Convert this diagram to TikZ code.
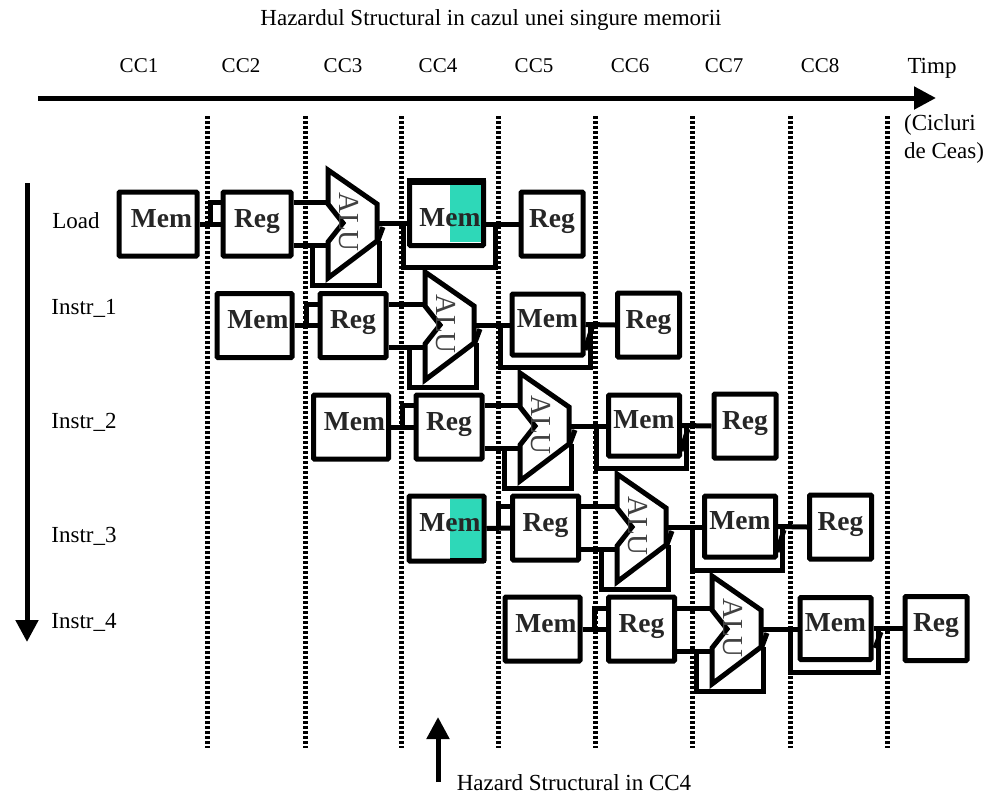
\documentclass[tikz,border=0pt]{standalone}
\usepackage{fontspec}
\setmainfont{Liberation Serif}
\usetikzlibrary{calc}
\usetikzlibrary{arrows.meta}
\definecolor{hazardteal}{RGB}{46, 216, 184}
\tikzset{
    wire/.style={line width=5pt, line join=miter},
    cyclesep/.style={line width=5pt, dash pattern=on 3.4pt off 1.6pt},
    bigarrow/.style={line width=5pt, -{Triangle[length=22pt, width=22pt]}},
    stagebox/.style={draw, line width=5pt, rounded corners=1pt, minimum height=64pt, inner sep=0pt,
                     text height=18pt, text depth=12pt, font=\fontsize{27.5}{30}\bfseries\selectfont, text=black!85},
    membox/.style={stagebox, minimum width=75pt, text width=68pt, align=right},
    datamem/.style={stagebox, minimum width=71pt, minimum height=61pt},
    regbox/.style={stagebox, minimum width=66pt},
    lastreg/.style={stagebox, minimum width=62pt},
    plainlabel/.style={inner sep=0pt, font=\fontsize{23}{28}\selectfont},
    cclabel/.style={inner sep=0pt, font=\fontsize{21}{25}\selectfont},
    alutext/.style={inner sep=0pt, rotate=-90, text=black!75, font=\fontsize{29}{30}\selectfont},
    alublock/.pic={
        \draw[wire] (0,0) -- (49,34) -- (49,71) -- (0,108) -- (0,72) -- (15,53) -- (0,34) -- cycle;
        \node[alutext] (-txt) at (21,52) {ALU};
        \coordinate (-in1) at (0,32);
        \coordinate (-in2) at (0,75);
        \coordinate (-out) at (49,53);
        \draw[wire] (-16,75) -- (-16,115) -- (51,115) -- (51,71);
        \draw[wire] (55,57) -- (49,73);
    }
}

\begin{document}
\begin{tikzpicture}[x=1pt, y=-1pt]
    \useasboundingbox (0,0) rectangle (988,796);
    % Clock cycle separators
    \draw[cyclesep] (207,116) -- (207,748);
    \draw[cyclesep] (305,116) -- (305,748);
    \draw[cyclesep] (401,116) -- (401,748);
    \draw[cyclesep] (498,116) -- (498,748);
    \draw[cyclesep] (595,116) -- (595,748);
    \draw[cyclesep] (692,116) -- (692,748);
    \draw[cyclesep] (790,116) -- (790,748);
    \draw[cyclesep] (887,116) -- (887,748);
    % Title and cycle names
    \node[plainlabel] (title) at (491,20) {Hazardul Structural in cazul unei singure memorii};
    \node[cclabel] (cc1) at (139,66) {CC1};
    \node[cclabel] (cc2) at (241,66) {CC2};
    \node[cclabel] (cc3) at (343,66) {CC3};
    \node[cclabel] (cc4) at (438,66) {CC4};
    \node[cclabel] (cc5) at (534,66) {CC5};
    \node[cclabel] (cc6) at (630,66) {CC6};
    \node[cclabel] (cc7) at (724,66) {CC7};
    \node[cclabel] (cc8) at (820,66) {CC8};
    \node[plainlabel] (timp) at (932,68) {Timp};
    \node[plainlabel, align=left] (cicluri) at (944,139) {(Cicluri\\de Ceas)};
    % Time and instruction axes
    \coordinate (timestart) at (38,98);
    \coordinate (timeend) at (936,98);
    \draw[bigarrow] (timestart) -- (timeend);
    \coordinate (instrstart) at (27,183);
    \coordinate (instrend) at (27,642);
    \draw[bigarrow] (instrstart) -- (instrend);
    % Instruction names
    \node[plainlabel] (load) at (76,221) {Load};
    \node[plainlabel] (instr1) at (84,308) {Instr\_1};
    \node[plainlabel] (instr2) at (84,422) {Instr\_2};
    \node[plainlabel] (instr3) at (84,536) {Instr\_3};
    \node[plainlabel] (instr4) at (84,622) {Instr\_4};
    % Shared memory highlight
    \fill[hazardteal] (450,185) rectangle (482,242);
    \fill (407,178) rectangle (486,185);
    \fill[hazardteal] (450,499) rectangle (482,558);
    \fill (450,558) rectangle (486,563);
    % Load
    \node[membox, minimum width=78pt] (mem0) at (158,224) {Mem};
    \node[regbox, minimum width=68pt] (reg0) at (257,224) {Reg};
    \pic (alu0) at (328,170) {alublock};
    \node[membox, minimum width=74pt, minimum height=65pt, text height=30pt, text depth=3pt] (dmem0) at (446.5,213) {Mem};
    \node[lastreg] (wreg0) at (552,224) {Reg};
    \draw[wire] (mem0.east) -- (reg0.west);
    \coordinate (tap0) at ($(mem0.east)!.5!(reg0.west)$);
    \draw[wire] (tap0) |- (reg0.west |- alu0-in1);
    \draw[wire] (reg0.east |- alu0-in1) -- (alu0-in1);
    \draw[wire] (reg0.east |- alu0-in2) -- (alu0-in2);
    \draw[wire] (alu0-out) -- (alu0-out -| dmem0.west);
    \draw[wire] (dmem0.east |- wreg0.west) -- (wreg0.west);
    \coordinate (fbl0) at (403,224);
    \coordinate (fbr0) at (495,267);
    \draw[wire] (fbl0) |- (fbr0) -- (fbr0 |- wreg0.west);
    % Instr_1
    \node[membox] (mem1) at (254.5,325.5) {Mem};
    \node[regbox] (reg1) at (353,325.5) {Reg};
    \pic (alu1) at (425,272) {alublock};
    \node[datamem] (dmem1) at (547.5,324.5) {Mem};
    \node[lastreg] (wreg1) at (648.5,325) {Reg};
    \draw[wire] (mem1.east) -- (reg1.west);
    \coordinate (tap1) at ($(mem1.east)!.5!(reg1.west)$);
    \draw[wire] (tap1) |- (reg1.west |- alu1-in1);
    \draw[wire] (reg1.east |- alu1-in1) -- (alu1-in1);
    \draw[wire] (reg1.east |- alu1-in2) -- (alu1-in2);
    \draw[wire] (alu1-out) -- (alu1-out -| dmem1.west);
    \draw[wire] (dmem1.east) -- (wreg1.west);
    \coordinate (fbl1) at (500,325);
    \coordinate (fbr1) at (590,367);
    \draw[wire] (fbl1) |- (fbr1) -- (fbr1 |- wreg1.west);
    \draw[wire] (592,328) -- (585,350);
    % Instr_2
    \node[membox] (mem2) at (351,427) {Mem};
    \node[regbox] (reg2) at (449,427) {Reg};
    \pic (alu2) at (520,373) {alublock};
    \node[datamem] (dmem2) at (644,425.5) {Mem};
    \node[lastreg] (wreg2) at (745,426) {Reg};
    \draw[wire] (mem2.east) -- (reg2.west);
    \coordinate (tap2) at ($(mem2.east)!.5!(reg2.west)$);
    \draw[wire] (tap2) |- (reg2.west |- alu2-in1);
    \draw[wire] (reg2.east |- alu2-in1) -- (alu2-in1);
    \draw[wire] (reg2.east |- alu2-in2) -- (alu2-in2);
    \draw[wire] (alu2-out) -- (alu2-out -| dmem2.west);
    \draw[wire] (dmem2.east) -- (wreg2.west);
    \coordinate (fbl2) at (596,426);
    \coordinate (fbr2) at (686,468);
    \draw[wire] (fbl2) |- (fbr2) -- (fbr2 |- wreg2.west);
    \draw[wire] (688,429) -- (681,451);
    % Instr_3
    \node[membox, minimum height=65pt] (mem3) at (446.5,528.5) {Mem};
    \node[regbox] (reg3) at (545.5,528) {Reg};
    \pic (alu3) at (617,474) {alublock};
    \node[datamem] (dmem3) at (740,526.5) {Mem};
    \node[lastreg] (wreg3) at (840.5,527) {Reg};
    \draw[wire] (mem3.east) -- (reg3.west);
    \coordinate (tap3) at ($(mem3.east)!.5!(reg3.west)$);
    \draw[wire] (tap3) |- (reg3.west |- alu3-in1);
    \draw[wire] (reg3.east |- alu3-in1) -- (alu3-in1);
    \draw[wire] (reg3.east |- alu3-in2) -- (alu3-in2);
    \draw[wire] (alu3-out) -- (alu3-out -| dmem3.west);
    \draw[wire] (dmem3.east) -- (wreg3.west);
    \coordinate (fbl3) at (692,527);
    \coordinate (fbr3) at (782,570);
    \draw[wire] (fbl3) |- (fbr3) -- (fbr3 |- wreg3.west);
    \draw[wire] (784,530) -- (777,552);
    % Instr_4
    \node[membox] (mem4) at (542.5,629) {Mem};
    \node[regbox] (reg4) at (641.5,629) {Reg};
    \pic (alu4) at (712,576) {alublock};
    \node[datamem, minimum height=62pt] (dmem4) at (835.5,628.5) {Mem};
    \node[lastreg] (wreg4) at (936,628.5) {Reg};
    \draw[wire] (mem4.east) -- (reg4.west);
    \coordinate (tap4) at ($(mem4.east)!.5!(reg4.west)$);
    \draw[wire] (tap4) |- (reg4.west |- alu4-in1);
    \draw[wire] (reg4.east |- alu4-in1) -- (alu4-in1);
    \draw[wire] (reg4.east |- alu4-in2) -- (alu4-in2);
    \draw[wire] (alu4-out) -- (alu4-out -| dmem4.west);
    \draw[wire] (dmem4.east) -- (wreg4.west);
    \coordinate (fbl4) at (790,629);
    \coordinate (fbr4) at (878,672);
    \draw[wire] (fbl4) |- (fbr4) -- (fbr4 |- wreg4.west);
    \draw[wire] (881,632) -- (875,648);
    % Hazard pointer
    \coordinate (hazardstart) at (438,782);
    \coordinate (hazardend) at (438,717);
    \draw[bigarrow] (hazardstart) -- (hazardend);
    \node[plainlabel] (hazardnote) at (574,783) {Hazard Structural in CC4};
\end{tikzpicture}
\end{document}
